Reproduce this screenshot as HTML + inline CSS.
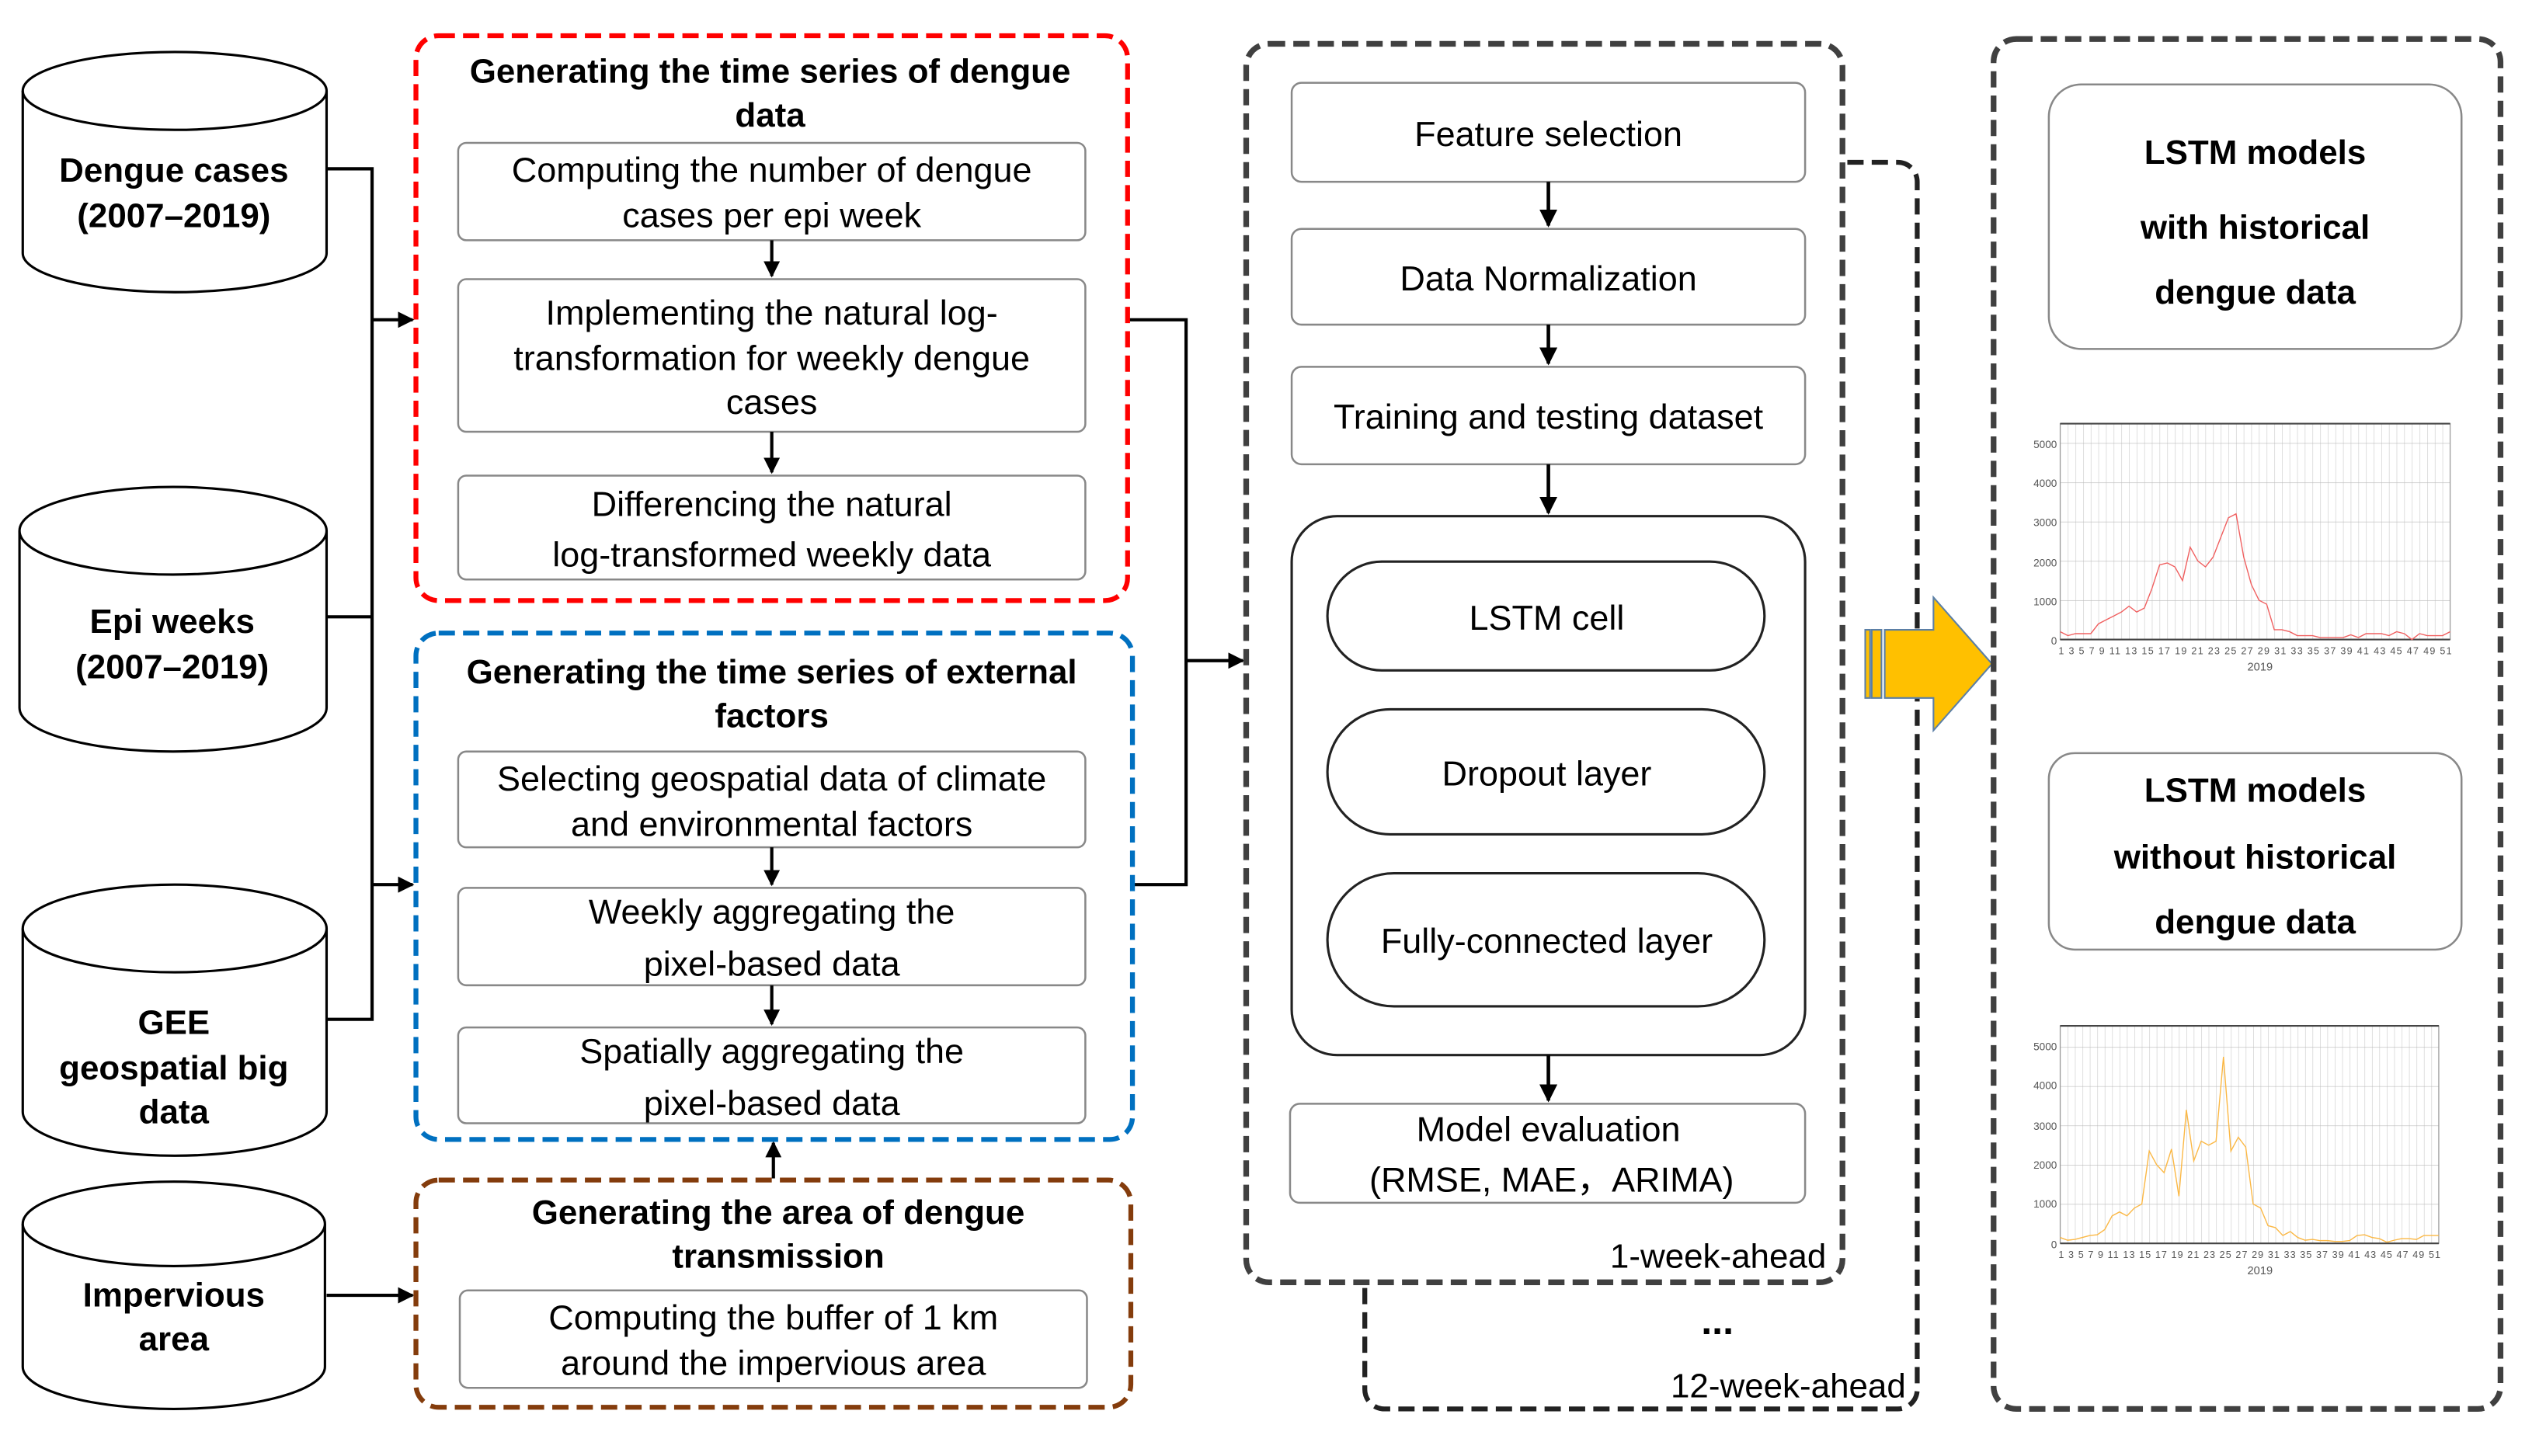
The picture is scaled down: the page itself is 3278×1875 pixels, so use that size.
<!DOCTYPE html>
<html><head><meta charset="utf-8"><style>
html,body{margin:0;padding:0;background:#fff;}
svg{display:block;}
text{font-family:"Liberation Sans",Arial,sans-serif;}
</style></head><body>
<svg width="3278" height="1875" viewBox="0 0 1567 897" preserveAspectRatio="none" xmlns="http://www.w3.org/2000/svg">
<defs>
<marker id="ah" viewBox="0 0 10 10" refX="9" refY="5" markerWidth="5" markerHeight="5" orient="auto"><path d="M0,0 L10,5 L0,10 z" fill="#000"/></marker>
<pattern id="g1" patternUnits="userSpaceOnUse" x="1268" y="394" width="4.706" height="24.2"><path d="M0,0 V24.2" stroke="#ccc" stroke-width="0.6"/><path d="M0,0 H4.706" stroke="#bbb" stroke-width="0.6"/></pattern>
<pattern id="g2" patternUnits="userSpaceOnUse" x="1268" y="766" width="4.569" height="24.2"><path d="M0,0 V24.2" stroke="#ccc" stroke-width="0.6"/><path d="M0,0 H4.569" stroke="#bbb" stroke-width="0.6"/></pattern>
</defs>
<rect width="1567" height="897" fill="#fff"/>

<g fill="#fff" stroke="#000" stroke-width="1.5">
<path d="M14,56 V156 A93.5,24 0 0 0 201,156 V56"/><ellipse cx="107.5" cy="56" rx="93.5" ry="24"/>
<path d="M12,327 V436 A94.5,27 0 0 0 201,436 V327"/><ellipse cx="106.5" cy="327" rx="94.5" ry="27"/>
<path d="M14,572 V685 A93.5,27 0 0 0 201,685 V572"/><ellipse cx="107.5" cy="572" rx="93.5" ry="27"/>
<path d="M14,754 V842 A93,26 0 0 0 200,842 V754"/><ellipse cx="107" cy="754" rx="93" ry="26"/>
</g>
<g font-weight="bold" font-size="21" text-anchor="middle" fill="#000">
<text x="107" y="112">Dengue cases</text><text x="107" y="140">(2007–2019)</text>
<text x="106" y="390">Epi weeks</text><text x="106" y="418">(2007–2019)</text>
<text x="107" y="637">GEE</text><text x="107" y="665">geospatial big</text><text x="107" y="692">data</text>
<text x="107" y="805">Impervious</text><text x="107" y="832">area</text>
</g>

<g stroke="#000" stroke-width="2" fill="none">
<path d="M201,104 H229 V628 H201"/><path d="M201,380 H229"/>
<path d="M229,197 H254" marker-end="url(#ah)"/>
<path d="M229,545 H254" marker-end="url(#ah)"/>
<path d="M201,798 H254" marker-end="url(#ah)"/>
<path d="M694,197 H730 V545 H697"/>
<path d="M730,407 H765" marker-end="url(#ah)"/>
<path d="M476,726 V704" marker-end="url(#ah)"/>
</g>

<rect x="256" y="22" width="438" height="348" rx="14" fill="#fff" stroke="#f00" stroke-width="3" stroke-dasharray="10,5"/>
<g font-weight="bold" font-size="21" text-anchor="middle"><text x="474" y="51">Generating the time series of dengue</text><text x="474" y="78">data</text></g>
<g fill="#fff" stroke="#888" stroke-width="1.2">
<rect x="282" y="88" width="386" height="60" rx="5"/>
<rect x="282" y="172" width="386" height="94" rx="5"/>
<rect x="282" y="293" width="386" height="64" rx="5"/>
</g>
<g font-size="21.5" text-anchor="middle">
<text x="475" y="112">Computing the number of dengue</text><text x="475" y="140">cases per epi week</text>
<text x="475" y="200">Implementing the natural log-</text><text x="475" y="228">transformation for weekly dengue</text><text x="475" y="255">cases</text>
<text x="475" y="318">Differencing the natural</text><text x="475" y="349">log-transformed weekly data</text>
</g>
<g stroke="#000" stroke-width="2"><path d="M475,148 V170" marker-end="url(#ah)"/><path d="M475,266 V291" marker-end="url(#ah)"/></g>

<rect x="256" y="390" width="441" height="312" rx="14" fill="#fff" stroke="#0070c0" stroke-width="3" stroke-dasharray="10,5"/>
<g font-weight="bold" font-size="21" text-anchor="middle"><text x="475" y="421">Generating the time series of external</text><text x="475" y="448">factors</text></g>
<g fill="#fff" stroke="#888" stroke-width="1.2">
<rect x="282" y="463" width="386" height="59" rx="5"/>
<rect x="282" y="547" width="386" height="60" rx="5"/>
<rect x="282" y="633" width="386" height="59" rx="5"/>
</g>
<g font-size="21.5" text-anchor="middle">
<text x="475" y="487">Selecting geospatial data of climate</text><text x="475" y="515">and environmental factors</text>
<text x="475" y="569">Weekly aggregating the</text><text x="475" y="601">pixel-based data</text>
<text x="475" y="655">Spatially aggregating the</text><text x="475" y="687">pixel-based data</text>
</g>
<g stroke="#000" stroke-width="2"><path d="M475,522 V545" marker-end="url(#ah)"/><path d="M475,607 V631" marker-end="url(#ah)"/></g>

<rect x="256" y="727" width="440" height="140" rx="14" fill="#fff" stroke="#843c0c" stroke-width="3" stroke-dasharray="10,5"/>
<g font-weight="bold" font-size="21" text-anchor="middle"><text x="479" y="754">Generating the area of dengue</text><text x="479" y="781">transmission</text></g>
<rect x="283" y="795" width="386" height="60" rx="5" fill="#fff" stroke="#888" stroke-width="1.2"/>
<g font-size="21.5" text-anchor="middle"><text x="476" y="819">Computing the buffer of 1 km</text><text x="476" y="847">around the impervious area</text></g>

<rect x="840" y="100" width="340" height="768" rx="12" fill="#fff" stroke="#222" stroke-width="3" stroke-dasharray="10,5"/>
<rect x="767" y="27" width="367" height="763" rx="14" fill="#fff" stroke="#404040" stroke-width="3.5" stroke-dasharray="10,5"/>
<g fill="#fff" stroke="#888" stroke-width="1.2">
<rect x="795" y="51" width="316" height="61" rx="6"/>
<rect x="795" y="141" width="316" height="59" rx="6"/>
<rect x="795" y="226" width="316" height="60" rx="6"/>
<rect x="795" y="318" width="316" height="332" rx="28" stroke="#222" stroke-width="1.5"/>
<rect x="794" y="680" width="317" height="61" rx="6"/>
</g>
<g fill="#fff" stroke="#222" stroke-width="1.5">
<rect x="817" y="346" width="269" height="67" rx="33.5"/>
<rect x="817" y="437" width="269" height="77" rx="38.5"/>
<rect x="817" y="538" width="269" height="82" rx="41"/>
</g>
<g font-size="21.5" text-anchor="middle">
<text x="953" y="90">Feature selection</text>
<text x="953" y="179">Data Normalization</text>
<text x="953" y="264">Training and testing dataset</text>
<text x="952" y="388">LSTM cell</text>
<text x="952" y="484">Dropout layer</text>
<text x="952" y="587">Fully-connected layer</text>
<text x="953" y="703">Model evaluation</text>
<text x="955" y="734">(RMSE, MAE，ARIMA)</text>
</g>
<g stroke="#000" stroke-width="2.2"><path d="M953,112 V139" marker-end="url(#ah)"/><path d="M953,200 V224" marker-end="url(#ah)"/><path d="M953,286 V316" marker-end="url(#ah)"/><path d="M953,650 V678" marker-end="url(#ah)"/></g>
<g font-size="21" text-anchor="end"><text x="1124" y="781">1-week-ahead</text><text x="1173" y="861">12-week-ahead</text></g>
<text x="1057" y="822" font-size="24" font-weight="bold" text-anchor="middle">...</text>

<g fill="#ffc000" stroke="#5b7fa6" stroke-width="1">
<rect x="1148" y="388" width="3" height="42"/><rect x="1152" y="388" width="6" height="42"/>
<path d="M1160,388 H1190 V368 L1226,409 L1190,450 V430 H1160 Z"/>
</g>

<rect x="1227" y="24" width="312" height="844" rx="14" fill="none" stroke="#404040" stroke-width="3.5" stroke-dasharray="10,5"/>
<rect x="1261" y="52" width="254" height="163" rx="20" fill="#fff" stroke="#888" stroke-width="1.2"/>
<rect x="1261" y="464" width="254" height="121" rx="16" fill="#fff" stroke="#888" stroke-width="1.2"/>
<g font-weight="bold" font-size="21" text-anchor="middle">
<text x="1388" y="101">LSTM models</text><text x="1388" y="147">with historical</text><text x="1388" y="187">dengue data</text>
<text x="1388" y="494">LSTM models</text><text x="1388" y="535">without historical</text><text x="1388" y="575">dengue data</text>
</g>

<rect x="1268" y="261" width="240" height="133" fill="url(#g1)" stroke="#999" stroke-width="0.6"/>
<path d="M1268,261 H1508 M1268,394 H1508" stroke="#444" stroke-width="1"/>
<g font-size="6.5" fill="#555" text-anchor="end"><text x="1266" y="276">5000</text><text x="1266" y="300">4000</text><text x="1266" y="324">3000</text><text x="1266" y="349">2000</text><text x="1266" y="373">1000</text><text x="1266" y="397">0</text></g>
<text x="1267" y="403" font-size="6" fill="#555" textLength="242" lengthAdjust="spacing">1 3 5 7 9 11 13 15 17 19 21 23 25 27 29 31 33 35 37 39 41 43 45 47 49 51</text>
<text x="1391" y="413" font-size="7" fill="#555" text-anchor="middle">2019</text>
<polyline transform="translate(1263.3,394) scale(4.706,-24.2)" vector-effect="non-scaling-stroke" fill="none" stroke="#f06060" stroke-width="1.4" points="1,.2 2,.1 3,.15 4,.15 5,.15 6,.4 7,.5 8,.6 9,.7 10,.85 11,.7 12,.8 13,1.3 14,1.9 15,1.95 16,1.85 17,1.5 18,2.35 19,2 20,1.85 21,2.1 22,2.6 23,3.1 24,3.2 25,2.1 26,1.4 27,1 28,.9 29,.25 30,.25 31,.2 32,.1 33,.1 34,.1 35,.05 36,.05 37,.05 38,.05 39,.12 40,.05 41,.15 42,.15 43,.15 44,.1 45,.2 46,.15 47,0 48,.15 49,.1 50,.1 51,.1 52,.2"/>

<rect x="1268" y="632" width="233" height="134" fill="url(#g2)" stroke="#999" stroke-width="0.6"/>
<path d="M1268,632 H1501 M1268,766 H1501" stroke="#444" stroke-width="1"/>
<g font-size="6.5" fill="#555" text-anchor="end"><text x="1266" y="647">5000</text><text x="1266" y="671">4000</text><text x="1266" y="696">3000</text><text x="1266" y="720">2000</text><text x="1266" y="744">1000</text><text x="1266" y="769">0</text></g>
<text x="1267" y="775" font-size="6" fill="#555" textLength="235" lengthAdjust="spacing">1 3 5 7 9 11 13 15 17 19 21 23 25 27 29 31 33 35 37 39 41 43 45 47 49 51</text>
<text x="1391" y="785" font-size="7" fill="#555" text-anchor="middle">2019</text>
<polyline transform="translate(1263.4,766) scale(4.569,-24.2)" vector-effect="non-scaling-stroke" fill="none" stroke="#fbb845" stroke-width="1.4" points="1,.15 2,.08 3,.1 4,.15 5,.2 6,.22 7,.35 8,.7 9,.8 10,.7 11,.9 12,1 13,2.35 14,2 15,1.8 16,2.4 17,1.2 18,3.4 19,2.1 20,2.6 21,2.5 22,2.6 23,4.75 24,2.35 25,2.7 26,2.45 27,1 28,.9 29,.45 30,.4 31,.2 32,.3 33,.15 34,.08 35,.1 36,.07 37,.07 38,.05 39,.05 40,.07 41,.2 42,.22 43,.15 44,.12 45,.03 46,.08 47,.12 48,.12 49,.1 50,.2 51,.2 52,.2"/>
</svg>
</body></html>
